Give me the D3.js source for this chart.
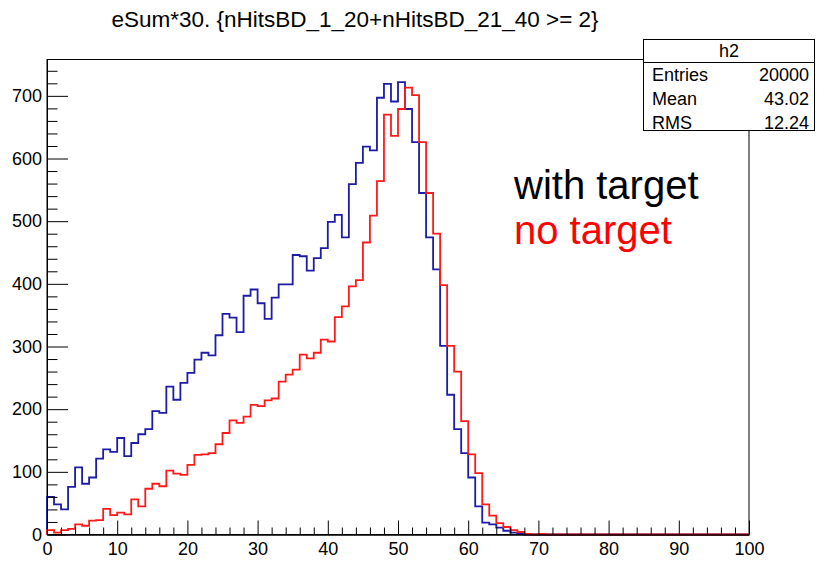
<!DOCTYPE html>
<html>
<head>
<meta charset="utf-8">
<script src="https://cdn.jsdelivr.net/npm/d3@7"></script>
<style>
  html, body { margin: 0; padding: 0; background: #fff; }
  svg { display: block; font-family: "Liberation Sans", Arial, Helvetica, sans-serif; }
</style>
</head>
<body>
<svg id="chart" width="817" height="565"></svg>
<script>
// ---- data (100 bins, 0..100) ----
const binLow = 0, binHigh = 100;
const withTarget = [
  60, 48, 40, 76, 107, 81, 91, 121, 136, 132,
  154, 125, 146, 160, 168, 197, 194, 236, 215, 242,
  258, 279, 290, 286, 318, 352, 346, 323, 381, 391,
  369, 344, 378, 399, 399, 446, 444, 421, 441, 457,
  499, 510, 474, 559, 593, 619, 613, 697, 719, 691,
  722, 679, 626, 545, 474, 423, 301, 223, 168, 130,
  91, 45, 19, 16, 11, 6, 3, 1, 0, 0,
  0, 0, 0, 0, 0, 0, 0, 0, 0, 0,
  0, 0, 0, 0, 0, 0, 0, 0, 0, 0,
  0, 0, 0, 0, 0, 0, 0, 0, 0, 0
];
const noTarget = [
  7, 3, 7, 9, 16, 14, 22, 23, 41, 31,
  35, 32, 56, 45, 73, 81, 77, 102, 97, 95,
  111, 127, 128, 130, 144, 162, 182, 178, 188, 207,
  205, 214, 217, 244, 255, 263, 287, 281, 290, 311,
  308, 347, 364, 396, 406, 466, 509, 564, 670, 636,
  679, 713, 701, 626, 545, 480, 398, 301, 260, 181,
  128, 98, 48, 30, 18, 12, 7, 4, 1, 0,
  1, 0, 0, 0, 0, 0, 0, 0, 0, 0,
  0, 0, 0, 0, 0, 0, 0, 0, 0, 0,
  0, 0, 0, 0, 0, 0, 0, 0, 0, 0
];
const xTicks = [0, 10, 20, 30, 40, 50, 60, 70, 80, 90, 100];
const yTicks = [0, 100, 200, 300, 400, 500, 600, 700];
const yMax = 758;
const titleText = "eSum*30. {nHitsBD_1_20+nHitsBD_21_40 >= 2}";
const statsName = "h2";
const statsLabels = ["Entries", "Mean", "RMS"];
const statsValues = ["20000", "43.02", "12.24"];
const legendLabels = ["with target", "no target"];
const legendColors = ["#000000", "#ff0000"];
const seriesColors = ["#1c1ca6", "#ff1a1a"];

// ---- layout ----
const svg = d3.select("#chart");
const X0 = 47, X1 = 749, Y0 = 534.5, Y1 = 59.5;
const x = d3.scaleLinear().domain([binLow, binHigh]).range([X0, X1]);
const y = d3.scaleLinear().domain([0, yMax]).range([Y0, Y1]);
const nb = withTarget.length;
const bw = (binHigh - binLow) / nb;

// frame
svg.append("rect").attr("x", X0).attr("y", Y1).attr("width", X1 - X0).attr("height", Y0 - Y1)
  .attr("fill", "none").attr("stroke", "#000").attr("stroke-width", 1);

// histograms
function stepPoints(vals) {
  const pts = [[binLow, 0]];
  vals.forEach((v, i) => { pts.push([binLow + i * bw, v]); pts.push([binLow + (i + 1) * bw, v]); });
  pts.push([binHigh, 0]);
  return pts;
}
const line = d3.line().x(d => x(d[0])).y(d => y(d[1]));
[withTarget, noTarget].forEach((vals, k) => {
  svg.append("path").attr("d", line(stepPoints(vals)))
    .attr("fill", "none").attr("stroke", seriesColors[k]).attr("stroke-width", 1.8)
    .attr("stroke-linejoin", "miter");
});

// axes
const fs = 18;
const xAxis = d3.axisBottom(x).tickValues(xTicks).tickSizeInner(-14).tickSizeOuter(0).tickPadding(8).tickFormat(d3.format("d"));
const gx = svg.append("g").attr("transform", `translate(0,${Y0})`).call(xAxis);
const xMinor = d3.range(0, 101, 2).filter(v => v % 10 !== 0);
const gxm = svg.append("g").attr("transform", `translate(0,${Y0})`)
  .call(d3.axisBottom(x).tickValues(xMinor).tickSizeInner(-7).tickSizeOuter(0).tickFormat(""));
const yAxis = d3.axisLeft(y).tickValues(yTicks).tickSizeInner(-21).tickSizeOuter(0).tickPadding(5).tickFormat(d3.format("d"));
const gy = svg.append("g").attr("transform", `translate(${X0},0)`).call(yAxis);
const yMinor = d3.range(0, yMax, 20).filter(v => v % 100 !== 0);
const gym = svg.append("g").attr("transform", `translate(${X0},0)`)
  .call(d3.axisLeft(y).tickValues(yMinor).tickSizeInner(-10.5).tickSizeOuter(0).tickFormat(""));
[gx, gxm, gy, gym].forEach(g => {
  g.select(".domain").attr("stroke", "#000");
  g.selectAll(".tick line").attr("stroke", "#000");
  g.selectAll("text").attr("font-size", fs).attr("fill", "#000").attr("font-family", "Liberation Sans, Arial, sans-serif");
});

// title
svg.append("text").attr("x", 355).attr("y", 27).attr("text-anchor", "middle")
  .attr("font-size", 22.5).attr("fill", "#000").text(titleText);

// stats box
const sb = { x: 643.5, y: 39.5, w: 171, h: 91 };
svg.append("rect").attr("x", sb.x).attr("y", sb.y).attr("width", sb.w).attr("height", sb.h)
  .attr("fill", "#fff").attr("stroke", "#000").attr("stroke-width", 1);
svg.append("line").attr("x1", sb.x).attr("x2", sb.x + sb.w).attr("y1", 62.5).attr("y2", 62.5)
  .attr("stroke", "#000").attr("stroke-width", 1);
svg.append("text").attr("x", sb.x + sb.w / 2).attr("y", 57).attr("text-anchor", "middle")
  .attr("font-size", 18).text(statsName);
statsLabels.forEach((lab, i) => {
  const by = 81 + i * 24;
  svg.append("text").attr("x", 652).attr("y", by).attr("font-size", 18).text(lab);
  svg.append("text").attr("x", 809).attr("y", by).attr("text-anchor", "end").attr("font-size", 18).text(statsValues[i]);
});

// legend text
legendLabels.forEach((lab, i) => {
  svg.append("text").attr("x", 514).attr("y", 199 + i * 45).attr("font-size", 40)
    .attr("fill", legendColors[i]).text(lab);
});
</script>
</body>
</html>
